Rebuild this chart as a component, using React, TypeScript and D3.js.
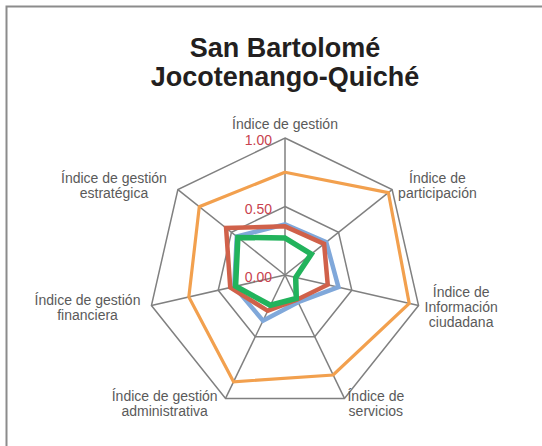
import React, { useEffect, useRef } from "react";
import * as d3 from "d3";

// axis labels, already split into lines the way the chart wraps them
const axisLabels = [
  ["Índice de gestión"],
  ["Índice de", "participación"],
  ["Índice de", "Información", "ciudadana"],
  ["Índice de", "servicios"],
  ["Índice de gestión", "administrativa"],
  ["Índice de gestión", "financiera"],
  ["Índice de gestión", "estratégica"],
];
const tickValues = [0, 0.5, 1];
const tickLabels = ["0.00", "0.50", "1.00"];

const orangeValues = [0.75, 0.965, 0.93, 0.81, 0.865, 0.72, 0.8];
const blueValues = [0.37, 0.385, 0.4, 0.22, 0.37, 0.38, 0.45];
const redValues = [0.355, 0.365, 0.32, 0.2, 0.29, 0.41, 0.55];
const greenValues = [0.27, 0.245, 0.08, 0.19, 0.245, 0.37, 0.44];

const titleLines = ["San Bartolomé", "Jocotenango-Quiché"];

export default function App() {
  const svgRef = useRef<SVGSVGElement>(null);
  const width = 542;
  const height = 446;
  const cx = 285;
  const cy = 275;
  const radius = 137;

  useEffect(() => {
    const svg = d3.select(svgRef.current);
    svg.selectAll("*").remove();

    const font = "'Liberation Sans', Arial, Helvetica, sans-serif";
    const n = axisLabels.length;
    const angle = (i: number) => (i * 2 * Math.PI) / n;
    const r = d3.scaleLinear().domain([0, 1]).range([0, radius]);

    // frame (only top and left edges are visible in the crop)
    svg
      .append("path")
      .attr("d", `M6.5,${height} V6.5 H${width}`)
      .attr("fill", "none")
      .attr("stroke", "#8c8c8c")
      .attr("stroke-width", 2);

    // title
    svg
      .append("text")
      .attr("x", cx)
      .attr("text-anchor", "middle")
      .attr("font-family", font)
      .attr("font-weight", "bold")
      .attr("font-size", 27)
      .attr("fill", "#231f20")
      .selectAll("tspan")
      .data(titleLines)
      .enter()
      .append("tspan")
      .attr("x", cx)
      .attr("y", (_, i) => 57 + i * 29)
      .text((d) => d);

    const g = svg.append("g").attr("transform", `translate(${cx},${cy})`);

    // grid rings
    const ring = d3
      .lineRadial<number>()
      .angle((_, i) => angle(i))
      .radius((d) => r(d))
      .curve(d3.curveLinearClosed);

    tickValues
      .filter((t) => t > 0)
      .forEach((t) => {
        g.append("path")
          .attr("d", ring(axisLabels.map(() => t)))
          .attr("fill", "none")
          .attr("stroke", "#808080")
          .attr("stroke-width", 1.5);
      });

    // spokes
    g.selectAll("line.spoke")
      .data(axisLabels)
      .enter()
      .append("line")
      .attr("class", "spoke")
      .attr("x1", 0)
      .attr("y1", 0)
      .attr("x2", (_, i) => r(1) * Math.sin(angle(i)))
      .attr("y2", (_, i) => -r(1) * Math.cos(angle(i)))
      .attr("stroke", "#808080")
      .attr("stroke-width", 1.5);

    // series, drawn back to front
    const series = [
      { values: orangeValues, color: "#f2a04e", width: 3.2 },
      { values: blueValues, color: "#80a8da", width: 4.5 },
      { values: redValues, color: "#d0614a", width: 4.5 },
      { values: greenValues, color: "#22b35c", width: 5.5 },
    ];

    series.forEach((s) => {
      g.append("path")
        .attr("d", ring(s.values))
        .attr("fill", "none")
        .attr("stroke", s.color)
        .attr("stroke-width", s.width)
        .attr("stroke-linejoin", "miter");
    });

    // tick labels on the top spoke
    g.selectAll("text.tick")
      .data(tickValues)
      .enter()
      .append("text")
      .attr("class", "tick")
      .attr("x", -13)
      .attr("y", (d) => -r(d) + 2)
      .attr("dominant-baseline", "central")
      .attr("text-anchor", "end")
      .attr("font-family", font)
      .attr("font-size", 14)
      .attr("fill", "#c8424e")
      .text((_, i) => tickLabels[i]);

    // axis labels, placed next to each outer vertex
    axisLabels.forEach((lines, i) => {
      const a = angle(i);
      const s = Math.sin(a);
      const c = Math.cos(a);
      const vx = r(1) * s;
      const vy = -r(1) * c;

      const lg = g.append("g");
      const txt = lg
        .append("text")
        .attr("text-anchor", "middle")
        .attr("font-family", font)
        .attr("font-size", 14)
        .attr("fill", "#5a5a5a");
      lines.forEach((line, j) => {
        txt.append("tspan").attr("x", 0).attr("y", j * 15).text(line);
      });

      const box = (lg.node() as SVGGElement).getBBox();
      let tx = 0;
      let ty = 0;
      if (Math.abs(s) < 0.1) {
        tx = vx - (box.x + box.width / 2);
        ty = vy - 6 - (box.y + box.height);
      } else if (c < -0.5) {
        // bottom labels hang just under the vertex
        tx = s > 0 ? vx + 3 - box.x : vx - 8 - (box.x + box.width);
        ty = vy - 10 - box.y;
      } else {
        tx = s > 0 ? vx + 6 - box.x : vx - 11 - (box.x + box.width);
        const dy = c > 0 ? -4 : 2;
        ty = vy + dy - (box.y + box.height / 2);
      }
      lg.attr("transform", `translate(${tx},${ty})`);
    });
  }, []);

  return (
    <div style={{ position: "fixed", left: 0, top: 0, width, height, background: "#fff" }}>
      <svg ref={svgRef} width={width} height={height} style={{ display: "block" }}></svg>
    </div>
  );
}
